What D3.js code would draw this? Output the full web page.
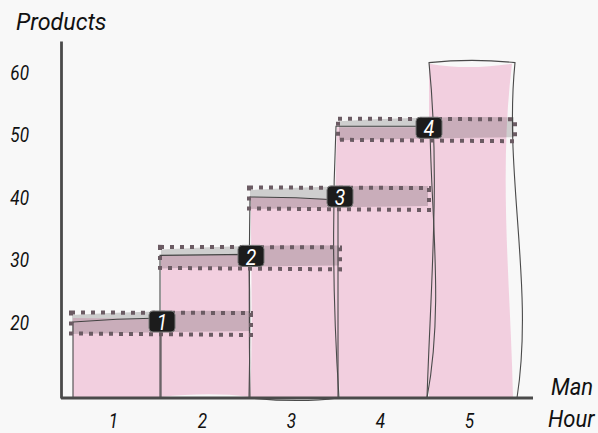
<!DOCTYPE html>
<html><head><meta charset="utf-8">
<script src="https://cdn.jsdelivr.net/npm/d3@7"></script>
<style>
html,body{margin:0;padding:0;background:#f8f8f8;}
svg{display:block;}
text{font-family:Roboto,"Open Sans",sans-serif;font-style:italic;}
</style></head><body>
<svg id="chart" width="598" height="433"></svg>
<script>
// Products produced per man-hour
const manHours = [1, 2, 3, 4, 5];
const products = [20, 30.5, 40, 51, 61.5];
const productTicks = [20, 30, 40, 50, 60];
const stepLabels = ["1", "2", "3", "4"];
const yTitle = "Products";
const xTitle = ["Man", "Hour"];

// Hand-drawn look: corner nudges [dx,dy] for TL,TR,BR,BL and cubic bows per side
// (top/bottom bows move in y, left/right bows move in x).
const outlineStyle = [
  {c: [[1,-1],[0,-5],[0,0],[1,0]],   top: [-1,-1], right: [0,0],    bottom: [1,0], left: [0,0]},
  {c: [[-1,-2],[-1,-3],[-1,0],[-1,0]], top: [0,0], right: [1,1],    bottom: [0,1], left: [0,0]},
  {c: [[0,-1],[-1,2],[-1,0],[0,0]],  top: [-1,-1], right: [0,0],    bottom: [4,3], left: [-1,-1]},
  {c: [[-3,-3],[2,-3],[-1,0],[0,0]], top: [0,0],   right: [2,16],   bottom: [0,0], left: [-5,-5]},
  {c: [[1,-1],[-2,-1],[0,0],[-1,0]], top: [-3,-3], right: [-12,18], bottom: [1,0], left: [3,12]}
];
const fillStyle = [
  {c: [[1,-5],[0,-4],[0,0],[1,0]],   top: [0,0], right: [0,0],   bottom: [0,0],   left: [0,0]},
  {c: [[0,-2],[0,-3],[0,-1],[0,-1]], top: [0,0], right: [0,0],   bottom: [-4,-3], left: [0,0]},
  {c: [[1,-1],[-1,1],[0,0],[0,0]],   top: [0,0], right: [0,0],   bottom: [0,0],   left: [3,0]},
  {c: [[-2,-2],[2,-2],[-1,0],[1,0]], top: [0,0], right: [1,10],  bottom: [0,0],   left: [-4,-4]},
  {c: [[1,0],[-5,0],[-4,0],[1,0]],   top: [5,4], right: [-14,-2], bottom: [0,0],  left: [0,0]}
];

const svg = d3.select("#chart");
svg.append("rect").attr("width", 598).attr("height", 433).attr("fill", "#f8f8f8");

const x = d3.scaleBand().domain(manHours).range([72, 517]).padding(0);
const y = d3.scaleLinear().domain([8, 65.12]).range([398, 41]);
const bw = x.bandwidth();
const base = y.domain()[0];

function sketch(x0, x1, y0, y1, s) {
  const P = [[x0, y0], [x1, y0], [x1, y1], [x0, y1]].map((p, i) => [p[0] + s.c[i][0], p[1] + s.c[i][1]]);
  const sides = [["top", 0, 1, "y"], ["right", 1, 2, "x"], ["bottom", 2, 3, "y"], ["left", 3, 0, "x"]];
  const p = d3.path();
  p.moveTo(P[0][0], P[0][1]);
  sides.forEach(([k, a, b, ax]) => {
    const A = P[a], B = P[b], bow = s[k];
    const c1 = [A[0] + (B[0] - A[0]) / 3, A[1] + (B[1] - A[1]) / 3];
    const c2 = [A[0] + 2 * (B[0] - A[0]) / 3, A[1] + 2 * (B[1] - A[1]) / 3];
    if (ax === "x") { c1[0] += bow[0]; c2[0] += bow[1]; } else { c1[1] += bow[0]; c2[1] += bow[1]; }
    p.bezierCurveTo(c1[0], c1[1], c2[0], c2[1], B[0], B[1]);
  });
  p.closePath();
  return p.toString();
}

const bars = manHours.map((h, i) => ({h, v: products[i], i}));

// bar fills, then sketchy outlines on top
svg.append("g").selectAll("path").data(bars).join("path")
  .attr("d", d => sketch(x(d.h), x(d.h) + bw, y(d.v), y(base), fillStyle[d.i]))
  .attr("fill", "#f2cfdf");
svg.append("g").selectAll("path").data(bars).join("path")
  .attr("d", d => sketch(x(d.h), x(d.h) + bw, y(d.v), y(base), outlineStyle[d.i]))
  .attr("fill", "none").attr("stroke", "#4a4a4a").attr("stroke-width", 1.1);

// step bands linking each bar to the next
const steps = stepLabels.map((lab, i) => ({lab, i, v: products[i], a: manHours[i], b: manHours[i + 1]}));
const bandEdges = d => [x(d.a) - 1, x(d.b) + bw + (d.i === steps.length - 1 ? -2 : 1)];
const band = svg.append("g").selectAll("g").data(steps).join("g");
band.append("path")
  .attr("d", d => {
    const [xl, xr] = bandEdges(d), yc = y(d.v);
    return `M${xl + 1},${yc - 8} Q${(xl + xr) / 2},${yc - 13} ${xr - 1},${yc - 12} L${xr - 1},${yc + 8} Q${(xl + xr) / 2},${yc + 9} ${xl + 1},${yc + 11} Z`;
  })
  .attr("fill", "rgba(40,40,40,0.2)");
band.append("path")
  .attr("d", d => {
    const [xl, xr] = bandEdges(d), yc = y(d.v);
    return `M${xl},${yc - 10.5} L${xr},${yc - 10} L${xr},${yc + 12} L${xl},${yc + 10.5} Z`;
  })
  .attr("fill", "none").attr("stroke", "#6b5b63").attr("stroke-width", 4)
  .attr("stroke-dasharray", "4,6");

// numbered step badges
const badge = svg.append("g").selectAll("g").data(steps).join("g")
  .attr("transform", d => `translate(${x(d.b) + 1},${y(d.v) - 1})`);
badge.append("rect")
  .attr("x", -13).attr("y", -11).attr("width", 26).attr("height", 21).attr("rx", 4)
  .attr("fill", "#1c1c1c").attr("stroke", "#777").attr("stroke-width", 1);
badge.append("text")
  .attr("transform", "scale(0.88,1)")
  .attr("text-anchor", "middle").attr("dy", "0.37em")
  .attr("font-size", 22).attr("fill", "#fff")
  .text(d => d.lab);

// axes
const tSx = 0.86, yPad = 32;
const yAxis = svg.append("g").attr("transform", "translate(61,0)")
  .call(d3.axisLeft(y).tickValues(productTicks).tickSize(0).tickSizeOuter(0).tickPadding(yPad));
yAxis.select(".domain").attr("stroke", "#4a4a4a").attr("stroke-width", 2.8);
yAxis.selectAll("text")
  .attr("x", -yPad / tSx).attr("transform", `scale(${tSx},1)`)
  .attr("font-size", 20).attr("fill", "#111").attr("font-family", null);

const xAxis = svg.append("g").attr("transform", `translate(0,${y(base)})`)
  .call(d3.axisBottom(x).tickSize(0).tickSizeOuter(0).tickPadding(16));
xAxis.select(".domain").attr("d", "M-11,0H461").attr("transform", "translate(72,0)")
  .attr("stroke", "#4a4a4a").attr("stroke-width", 2.8);
xAxis.selectAll("text")
  .attr("x", -3 / tSx).attr("transform", `scale(${tSx},1)`)
  .attr("font-size", 20).attr("fill", "#111").attr("font-family", null);

function label(str, tx, ty, size, sx) {
  svg.append("text").attr("transform", `translate(${tx},${ty}) scale(${sx},1)`)
    .attr("font-size", size).attr("fill", "#111").text(str);
}
label(yTitle, 16, 30, 24, 0.97);
label(xTitle[0], 551, 395, 24, 0.92);
label(xTitle[1], 548, 427, 24, 0.92);
</script>
</body></html>
